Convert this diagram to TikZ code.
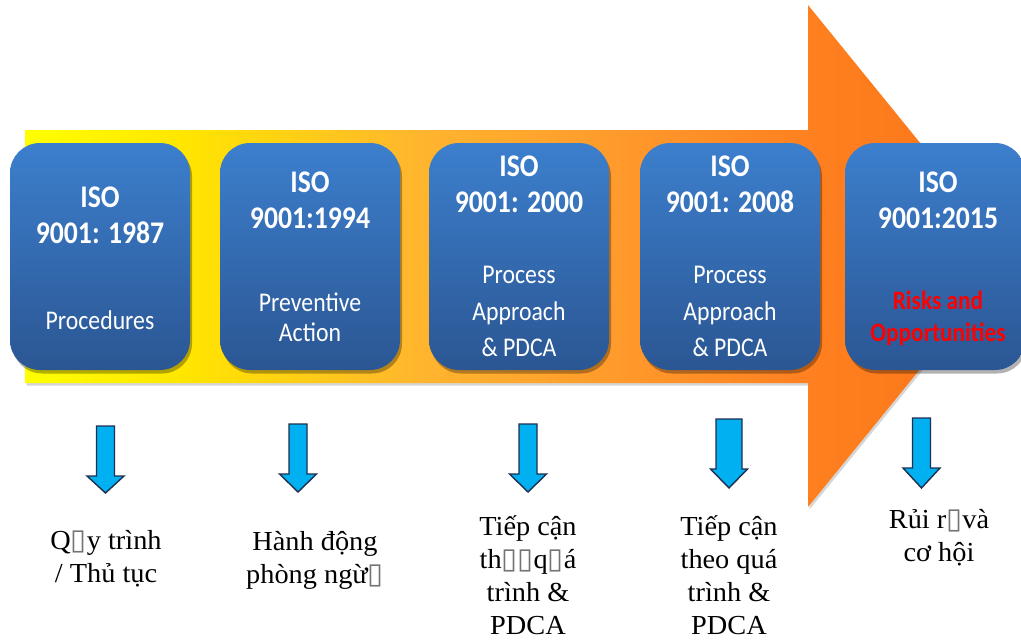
\documentclass[tikz,border=0pt]{standalone}
\usepackage{fontspec}
\setmainfont{Liberation Serif}
\newfontfamily\capfont[FakeStretch=1.03]{Liberation Serif}
\newfontfamily\boxfont[FakeStretch=0.88]{Carlito}
\newfontfamily\symfont{DejaVu Sans}
\usetikzlibrary{shadows}

\definecolor{tlY}{HTML}{FFFF00}
\definecolor{tlY2}{HTML}{FFE600}
\definecolor{tlM}{HTML}{FFB52E}
\definecolor{tlO1}{HTML}{FF9A2C}
\definecolor{tlO2}{HTML}{FF8020}
\definecolor{tlO3}{HTML}{F97416}
\definecolor{boxtop}{HTML}{3C7FCD}
\definecolor{boxbot}{HTML}{2B5693}
\definecolor{arrowfill}{HTML}{00B0F0}
\definecolor{arrowline}{HTML}{1F2F4F}
\definecolor{riskred}{HTML}{FF0000}

% yellow-to-orange fill of the timeline arrow
\pgfdeclarehorizontalshading{timeline}{100bp}{color(0bp)=(tlY); color(25bp)=(tlY); color(33bp)=(tlY2); color(45bp)=(tlM); color(55bp)=(tlO1); color(64.7bp)=(tlO2); color(75bp)=(tlO3); color(100bp)=(tlO3)}

% missing-glyph box as printed in the captions
\newcommand\nog{{\symfont\fontsize{29pt}{29pt}\selectfont\textcolor{black!55}{▯}}}

\tikzset{
  isobox/.style={rounded corners=30pt, minimum width=180pt, minimum height=227pt,
    top color=boxtop, bottom color=boxbot, inner sep=0pt, draw=none,
    drop shadow={shadow xshift=2pt, shadow yshift=-3.5pt, opacity=.3, fill=black}},
  title/.style={font=\boxfont\bfseries\fontsize{31.5pt}{36pt}\selectfont, text=white, align=center, inner sep=0pt},
  subtitle/.style={font=\boxfont\fontsize{27pt}{#1}\selectfont, text=white, align=center, inner sep=0pt},
  risk/.style={font=\boxfont\bfseries\fontsize{26.5pt}{32pt}\selectfont, text=riskred, align=center, inner sep=0pt},
  caption/.style={font=\capfont\fontsize{27.5pt}{33pt}\selectfont, text=black, align=center, inner sep=0pt},
  downarrow/.style={fill=arrowfill, draw=arrowline, line width=1.4pt, line join=miter}
}

\begin{document}
\begin{tikzpicture}[x=1pt,y=-1pt]
\useasboundingbox (0,0) rectangle (1021,643);
\fill[white] (0,0) rectangle (1021,643);

% timeline arrow with its soft shadow
\fill[black!35, opacity=.45, shift={(1.5,2.5)}]
  (25,130) -- (808,130) -- (808,5) -- (1012,256) -- (808,507) -- (808,383) -- (25,383) -- cycle;
\shade[shading=timeline]
  (25,130) -- (808,130) -- (808,5) -- (1012,256) -- (808,507) -- (808,383) -- (25,383) -- cycle;

% version boxes
\node[isobox] (b1) at (100,256.5) {};
\node[isobox] (b2) at (310,256.5) {};
\node[isobox] (b3) at (519,256.5) {};
\node[isobox] (b4) at (730,256.5) {};
\node[isobox] (b5) at (935,256.5) {};

\node[title] (t1) at (100,215) {ISO\\9001: 1987};
\node[title] (t2) at (310,200) {ISO\\9001:1994};
\node[title] (t3) at (519,184) {ISO\\9001: 2000};
\node[title] (t4) at (730,184) {ISO\\9001: 2008};
\node[title] (t5) at (938,200) {ISO\\9001:2015};

\node[subtitle=36pt] (s1) at (100,320) {Procedures};
\node[subtitle=30pt] (s2) at (310,317) {Preventive\\Action};
\node[subtitle=36.5pt] (s3) at (519,311.5) {Process\\Approach\\\& PDCA};
\node[subtitle=36.5pt] (s4) at (730,311.5) {Process\\Approach\\\& PDCA};
\node[risk] (s5) at (938,318) {Risks and\\Opportunities};

% pointers down to the Vietnamese captions
\foreach \cx/\tp/\bs/\tip/\sw in {105.5/426/476/493/9, 298/424/474/492/9, 528/424/474/492/9, 729/419/469/488/13, 921.5/418/468/488/9}
  \draw[downarrow] (\cx-\sw,\tp) -- (\cx+\sw,\tp) -- (\cx+\sw,\bs) -- (\cx+18.5,\bs)
    -- (\cx,\tip) -- (\cx-18.5,\bs) -- (\cx-\sw,\bs) -- cycle;

% captions
\node[caption] (c1) at (106,559) {Q\nog y trình\\/ Thủ tục};
\node[caption] (c2) at (315,560) {Hành động\\phòng ngừ\nog};
\node[caption] (c3) at (528,575) {Tiếp cận\\th\nog\nog q\nog á\\trình \&\\PDCA};
\node[caption] (c4) at (729,575) {Tiếp cận\\theo quá\\trình \&\\PDCA};
\node[caption] (c5) at (939,538) {Rủi r\nog và\\cơ hội};
\end{tikzpicture}
\end{document}
